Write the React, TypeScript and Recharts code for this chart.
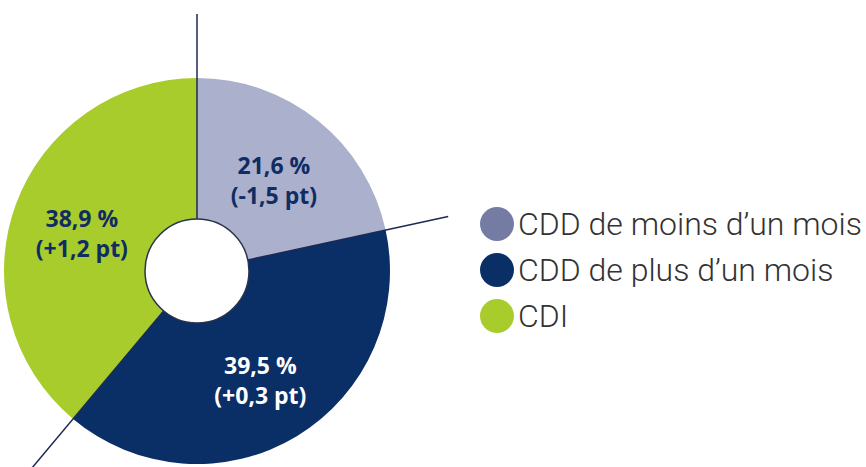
import { PieChart, Pie, Cell, Legend } from "recharts";

// Répartition des embauches par type de contrat
const categories = ["CDD de moins d’un mois", "CDD de plus d’un mois", "CDI"];
const shares = [21.6, 39.5, 38.9];
const changes = [-1.5, 0.3, 1.2];

const sliceColors = ["#abb0cc", "#0a2e66", "#a9cc2d"];
const legendColors = ["#747ca4", "#0a2e66", "#a9cc2d"];
const labelColors = ["#0f2c63", "#ffffff", "#0f2c63"];

const data = categories.map((name, i) => ({ name, value: shares[i], change: changes[i] }));

const RADIAN = Math.PI / 180;
const LEADER_RADIUS = 257;

const fmt = (v: number) => v.toFixed(1).replace(".", ",");
const fmtChange = (v: number) => `(${v >= 0 ? "+" : "-"}${fmt(Math.abs(v))} pt)`;

const renderLabel = (props: any) => {
    const { cx, cy, midAngle, innerRadius, outerRadius, startAngle, index } = props;
    const r = (innerRadius + outerRadius) / 2;
    const x = cx + r * Math.cos(-midAngle * RADIAN);
    const y = cy + r * Math.sin(-midAngle * RADIAN);
    // trait de séparation prolongé au début de chaque part
    const x1 = cx + innerRadius * Math.cos(-startAngle * RADIAN);
    const y1 = cy + innerRadius * Math.sin(-startAngle * RADIAN);
    const x2 = cx + LEADER_RADIUS * Math.cos(-startAngle * RADIAN);
    const y2 = cy + LEADER_RADIUS * Math.sin(-startAngle * RADIAN);
    return (
        <g>
            <line x1={x1} y1={y1} x2={x2} y2={y2} stroke="#1b2a55" strokeWidth={1.5} />
            {index === 0 && (
                <circle cx={cx} cy={cy} r={innerRadius} fill="none" stroke="#2a3350" strokeWidth={1.5} />
            )}
            <text
                x={x}
                textAnchor="middle"
                fill={labelColors[index]}
                style={{ fontFamily: "'Open Sans', sans-serif", fontWeight: 700, fontSize: 23 }}
            >
                <tspan x={x} y={y - 2}>{`${fmt(shares[index])} %`}</tspan>
                <tspan x={x} y={y + 28}>{fmtChange(changes[index])}</tspan>
            </text>
        </g>
    );
};

const renderLegend = () => (
    <div>
        {categories.map((c, i) => (
            <div key={c} style={{ display: "flex", alignItems: "center", height: 46 }}>
                <span
                    style={{
                        width: 34,
                        height: 34,
                        borderRadius: "50%",
                        background: legendColors[i],
                        marginRight: 4,
                        flexShrink: 0,
                    }}
                />
                <span
                    style={{
                        fontFamily: "Roboto, sans-serif",
                        fontWeight: 300,
                        fontSize: 32,
                        color: "#333333",
                        whiteSpace: "nowrap",
                    }}
                >
                    {c}
                </span>
            </div>
        ))}
    </div>
);

export default function App() {
    return (
        <div style={{ position: "absolute", left: 0, top: 0, width: 866, height: 467, background: "#fff" }}>
            <PieChart width={866} height={467} margin={{ top: 0, right: 0, bottom: 0, left: 0 }}>
                <Pie
                    data={data}
                    dataKey="value"
                    cx={197}
                    cy={271}
                    innerRadius={52}
                    outerRadius={193}
                    startAngle={90}
                    endAngle={-270}
                    stroke="none"
                    label={renderLabel}
                    labelLine={false}
                    isAnimationActive={false}
                >
                    {data.map((d, i) => (
                        <Cell key={d.name} fill={sliceColors[i]} />
                    ))}
                </Pie>
                <Legend
                    content={renderLegend}
                    wrapperStyle={{ left: 480, top: 201, width: 386 }}
                />
            </PieChart>
        </div>
    );
}
